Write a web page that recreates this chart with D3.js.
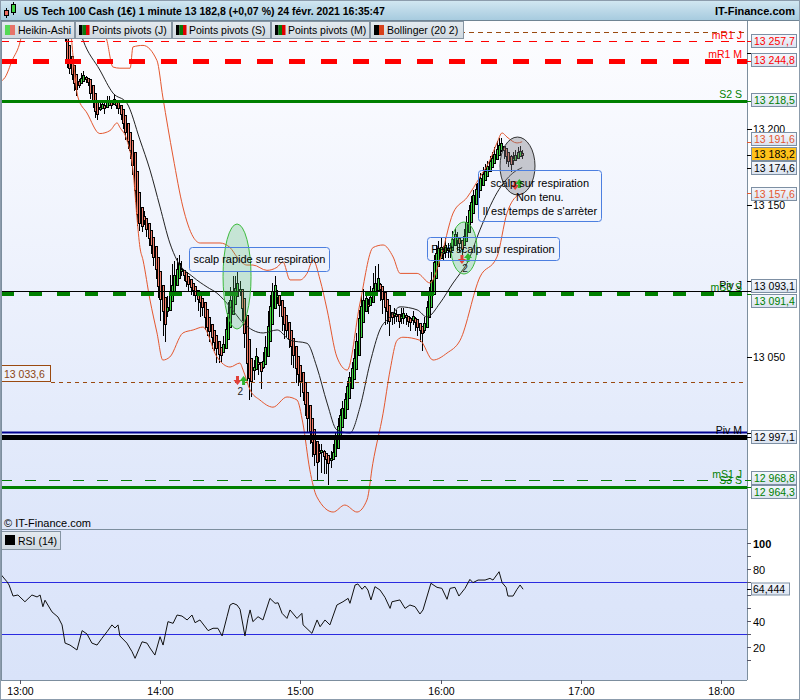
<!DOCTYPE html>
<html><head><meta charset="utf-8">
<script src="https://cdn.jsdelivr.net/npm/d3@7"></script>
<style>
body{margin:0;background:#fff;}
svg{display:block;font-family:"Liberation Sans",Arial,sans-serif;}
</style></head><body>
<svg id="c" width="800" height="700"></svg>
<script>
// ---------------- DATA ----------------
const title = "US Tech 100 Cash (1€) 1 minute 13 182,8 (+0,07 %) 24 févr. 2021 16:35:47";
const site = "IT-Finance.com";
const legendItems = ["Heikin-Ashi","Points pivots (J)","Points pivots (S)","Points pivots (M)","Bollinger (20 2)"];

// Heikin-Ashi candles, one per minute, starting 13:19 (minutes after 13:00)
const candleStart = 19;
const haClose = [
13262,13245,13240,13236,13230,13226,13229,13233,13235,13233,
13231,13224,13218,13212,13210,13214,13216,13214,13217,13218,
13216,13219,13216,13214,13210,13204,13198,13192,13186,13176,
13160,13144,13138,13136,13140,13134,13128,13124,13116,13108,
13097,13088,13080,13072,13082,13092,13097,13103,13107,13111,
13107,13104,13100,13098,13096,13094,13091,13088,13086,13083,
13076,13070,13067,13063,13060,13056,13052,13051,13058,13068,
13078,13087,13091,13095,13098,13094,13082,13066,13046,13036,
13034,13043,13050,13046,13041,13047,13056,13070,13083,13093,
13097,13090,13084,13077,13072,13068,13062,13057,13051,13043,
13039,13034,13027,13019,13010,13001,12994,12986,12981,12987,
12988,12985,12983,12980,12983,12987,12996,13004,13011,13016,
13022,13030,13036,13042,13049,13060,13075,13083,13087,13088,
13084,13089,13095,13098,13101,13095,13088,13083,13080,13074,
13076,13078,13077,13074,13076,13078,13076,13074,13073,13076,
13073,13070,13068,13066,13072,13082,13090,13100,13112,13118,
13121,13122,13119,13123,13121,13120,13127,13130,13128,13125,
13121,13129,13138,13146,13151,13156,13160,13164,13167,13170,
13172,13175,13178,13180,13183,13186,13189,13190,13186,13182,
13179,13177,13180,13182,13184,13185,13183.2];
const wickUp = [
3,2,2,2,2,3,4,4,3,2, 2,2,2,2,3,4,3,3,5,4, 3,4,2,2,2,2,2,2,2,2,
2,2,3,4,6,3,4,3,2,2, 2,2,2,3,8,12,14,10,8,6, 6,3,3,2,3,3,2,2,3,2,
2,2,2,2,2,2,2,3,6,8, 8,9,12,8,8,6,2,2,2,2, 4,5,6,4,5,6,8,10,8,6,
6,4,3,3,2,2,2,2,2,2, 2,3,2,2,2,2,2,2,3,6, 5,4,3,4,5,6,4,6,5,5,
4,4,4,5,6,6,6,8,8,5, 4,8,10,12,10,4,3,2,2,2, 3,4,4,3,6,4,3,3,3,4,
3,2,2,2,4,5,6,6,5,6, 5,6,4,6,4,5,6,5,4,4, 4,5,5,4,5,4,4,5,4,5,
5,4,4,5,5,6,5,4,3,3, 4,6,5,4,4,4,3];
const wickDown = [
4,5,4,4,5,4,2,2,3,3, 3,4,4,5,4,2,3,4,2,3, 3,2,3,4,4,4,5,5,6,6,
8,8,5,4,3,5,5,6,6,7, 8,14,16,12,6,6,4,3,3,3, 4,4,4,5,5,4,5,8,10,6,
8,6,7,8,6,10,6,4,4,3, 5,4,4,3,4,4,8,10,12,14, 10,8,6,8,12,5,8,6,4,3,
4,5,8,10,10,5,6,12,8,10, 8,10,6,8,10,8,10,8,12,6, 14,12,10,14,6,4,3,3,4,4,
4,3,4,3,3,3,4,5,8,6, 6,5,4,4,5,8,10,12,8,10, 5,6,4,5,4,6,5,4,6,5,
6,6,8,12,6,4,4,4,3,3, 4,6,5,8,6,5,6,5,8,6, 6,4,4,3,3,3,4,3,3,3,
3,3,4,4,3,4,4,5,6,5, 4,5,4,3,3,3,3];

// Bollinger (20 2) — sampled readings (minutes after 13:00, price)
const bbUpperT = [34,35.5,37,39.6,42.6,47,48.2,52.5,58.5,61,65.4,69.6,74,77,85.5,89.8,92.8,97,99.6,105.6,109.9,112.5,115.5,119.8,122.8,125.4,128.4,131.4,135.6,140,145.5,151.1,155.4,159.7,162.7,170,175.5,179.8,185.4,191.4,196.9,201.2,204.2,206.4,208.5,212.8,215];
const bbUpper = [13275,13266,13258.5,13240.8,13240,13240,13254,13255,13245,13221,13181.6,13148.7,13129,13125,13125,13122,13115.8,13110.5,13110.5,13107,13109,13112.5,13100.7,13100.7,13105,13113.8,13100.7,13081,13050,13041.4,13085.5,13122,13123.7,13115.8,13105,13105,13098.7,13113.8,13144.7,13155,13168.4,13179.6,13190.8,13197.4,13194.7,13190.8,13191.6];
const bbMidT = [24,26.8,34,39.6,45.6,51.2,55.5,59.8,64,67,74,80,84.2,89.8,95.4,104,110,115.5,122.8,127,131.4,135.6,141.2,145.5,149.8,154,158.4,162.7,170,174.2,179.8,185.4,188.4,191.4,196.9,204.2,211,215];
const bbMid = [13272,13258.5,13238.8,13223.7,13217,13192.8,13173,13148.7,13125,13113.8,13102.6,13096,13092,13083,13072.4,13065.8,13067.8,13061,13059,13043.4,13019.7,13002,13000,13017,13046,13067.8,13076.3,13083,13081,13076.3,13085.5,13098.7,13105,13111.8,13133.6,13158,13171,13174.6];
const bbLowerT = [-8.8,-6.6,-3.6,0,2,21,23,24.6,28.5,34,38.4,41.4,42.6,45.6,48.2,49.9,51.2,52.5,55.5,58.5,61,64,69.6,74,78.2,84.2,89.8,94,95.4,98.4,102.6,108.2,114.2,118.5,121,124,127,134,139,144.2,148.5,151,155.4,158.4,161.4,163.9,171.2,176.8,182.8,188.4,196.9,204.2,208.5,211,215];
const bbLower = [13231,13234,13245,13258.5,13275,13268,13240,13221,13210.5,13197,13199,13204,13201,13192.8,13173,13142,13122,13113.8,13087.5,13065.8,13048,13050,13065.8,13067.8,13069.7,13050,13043.4,13046,13041.4,13028.3,13021.7,13017,13023.7,13021.7,13006.6,12975.7,12958,12948,12952.6,12948,12956,12980,13013,13041.4,13061,13063,13061,13048,13052.6,13061,13102.6,13115.8,13144.7,13153,13157.6];

// Pivot levels
const levelNames = ["mR1 J","mR1 M","S2 S","Piv J","mS3 S","Piv M","mS1 J","S3 S"];
const levelValues = [13257.7,13244.8,13218.5,13093.1,13091.4,12997.1,12968.8,12964.3];
const userLevels = [13263.8, 13033.6];
const blueLevel = 13000.4;

// Right-hand value boxes
const boxValues = [13257.7,13244.8,13218.5,13191.6,13183.2,13174.6,13157.6,13093.1,13091.4,12997.1,12968.8,12964.3];
const boxLabels = ["13 257,7","13 244,8","13 218,5","13 191,6","13 183,2","13 174,6","13 157,6","13 093,1","13 091,4","12 997,1","12 968,8","12 964,3"];
const priceTicks = [13000,13050,13100,13150,13200,13250];
const priceTickLabels = ["13 000","13 050","13 100","13 150","13 200","13 250"];

// RSI (14)
const rsiT = [-8.8,-5.8,-4.9,-3.2,-1.1,1.9,4.9,7.1,8.4,9.6,10.5,13.5,16.1,17.8,19.1,21.2,24.2,26.4,28.5,30.6,32.8,34.9,37.1,39.2,40.5,41.8,42.6,45.6,47.8,49.1,52.1,54.2,55.5,57.6,59.8,61.1,63.2,65.4,67.1,69.2,71.4,73.5,74.8,76.9,80.4,82.5,84.6,86.4,88.5,89.8,91.1,92.8,94.1,96.2,97.5,98.4,99.6,101.8,103.9,106.9,109.1,110.4,112.1,114.2,115.5,118.5,120.6,121.1,124.9,127.1,128.4,130.5,132.6,135.6,138.2,140.4,141.2,143.4,144.6,146.4,147.6,148.9,150.2,151.9,154.1,156.2,158.4,159.2,162.6,164.8,166.9,169.1,171.2,172.5,175.9,178.5,180.6,182.8,184.1,186.2,187.9,190.5,192.6,193.9,196.1,199.1,201.2,202.5,205.1,206.4,208.1,208.9,211.1,212.8,214.1,215.4];
const rsiV = [76.7,70.2,67.7,59.2,60,54.8,60,58.5,60,51,56,47,43,37,23,21.5,17.7,32.6,30,23,21.5,26.7,31.8,37,34.6,37,28.5,23,16.4,11.3,24,23,19.2,13.8,27.9,21.5,39.5,38.2,44.6,43.8,40.8,44.6,38.7,40.8,32.6,34.4,34.4,28.5,43.3,52.3,53.6,52.3,49,28.5,42,48.5,39.5,43.3,40.8,57.4,53.6,54,45.9,42,48.5,42,45.9,37,30.5,40.8,35.6,40.8,37,52.3,54.8,57.4,53.6,67.7,68.5,64.4,66.9,63.8,56.2,66.4,63.8,58.2,49.7,54.8,56.2,49.7,52.3,51,45.4,48.5,69,65.9,65.1,56.7,65.1,65.9,59.2,65.1,72,69.5,71.5,71.5,72.8,71.5,77.9,69.5,65.9,59.2,59.2,64.4,67.7,64.444];
const rsiLevels = [70, 30];
const rsiTicks = [20,40,60,80,100];
const rsiLast = "64,444";

// Annotations (time span in minutes after 13:00, price span)
const notes = [
  {lines:["scalp rapide sur respiration"], t:[72.4,132.4], p:[13122.4,13106.6]},
  {lines:["Petit scalp sur respiration"], t:[174.3,231], p:[13128.9,13113.8]},
  {lines:["scalp sur respiration","Non tenu.","Il est temps de s'arrèter"], t:[196.1,249], p:[13173,13139.5]}
];
const ellipses = [
  {t:[86.8,98.8], p:[13068.4,13137.5], kind:"green"},
  {t:[184.5,195.6], p:[13104.6,13138.8], kind:"green"},
  {t:[205.5,220.5], p:[13156.6,13194.7], kind:"grey"}
];

// ---------------- CHART ----------------
const svg = d3.select("#c");
const defs = svg.append("defs");
function grad(id, stops){
  const g = defs.append("linearGradient").attr("id",id).attr("x1",0).attr("y1",0).attr("x2",0).attr("y2",1);
  stops.forEach(([o,c])=>g.append("stop").attr("offset",o).attr("stop-color",c));
}
grad("hdr",[[0,"#d3e8f2"],[1,"#a7cbdf"]]);
grad("mainbg",[[0,"#fdfdff"],[1,"#dde6fa"]]);
grad("rsibg",[[0,"#dfe7fb"],[1,"#d9e3f9"]]);
grad("btn",[[0,"#e4eaef"],[1,"#cfd8e0"]]);
grad("box",[[0,"#f5f8fd"],[1,"#d9e2ef"]]);

const L=1, R=747, MT=21, MB=529, RT=530, RB=680;
defs.append("clipPath").attr("id","clipMain").append("rect").attr("x",L).attr("y",MT).attr("width",R-L).attr("height",MB-MT);
defs.append("clipPath").attr("id","clipRsi").append("rect").attr("x",L).attr("y",RT).attr("width",R-L).attr("height",RB-RT);

const base = new Date(2021,1,24,13,0,0);
const toDate = m => new Date(base.getTime()+m*60000);
const x = d3.scaleTime().domain([toDate(-8.357), toDate(311.357)]).range([L,R]);
const y = d3.scaleLinear().domain([12936.84,13271.05]).range([MB,MT]);
const yr = d3.scaleLinear().domain([-5.385,110]).range([RB,RT]);
const xm = m => x(toDate(m));

svg.append("rect").attr("width",800).attr("height",700).attr("fill","#fff");
svg.append("rect").attr("x",L).attr("y",MT).attr("width",R-L).attr("height",MB-MT).attr("fill","url(#mainbg)");
svg.append("rect").attr("x",L).attr("y",RT).attr("width",R-L).attr("height",RB-RT).attr("fill","url(#rsibg)");

// header
svg.append("rect").attr("x",0).attr("y",0).attr("width",800).attr("height",20).attr("fill","url(#hdr)");
svg.append("line").attr("x1",0).attr("x2",800).attr("y1",20.5).attr("y2",20.5).attr("stroke","#6f8494");
const ic = svg.append("g");
ic.append("line").attr("x1",6.5).attr("x2",6.5).attr("y1",8).attr("y2",18).attr("stroke","#000");
ic.append("rect").attr("x",4.5).attr("y",10.5).attr("width",4).attr("height",5).attr("fill","#ec6a5e").attr("stroke","#000");
ic.append("line").attr("x1",13.5).attr("x2",13.5).attr("y1",2).attr("y2",15).attr("stroke","#000");
ic.append("rect").attr("x",11.5).attr("y",4.5).attr("width",4).attr("height",8).attr("fill","#3fd23f").attr("stroke","#000");
svg.append("text").attr("x",24).attr("y",15).attr("font-size",10.5).attr("font-weight","bold").text(title);
svg.append("text").attr("x",795).attr("y",15).attr("text-anchor","end").attr("font-size",11).attr("font-weight","bold").text(site);

// ---- main panel content (clipped)
const gm = svg.append("g").attr("clip-path","url(#clipMain)");

gm.append("line").attr("x1",L).attr("x2",R).attr("y1",Math.round(y(userLevels[0]))+0.5).attr("y2",Math.round(y(userLevels[0]))+0.5)
  .attr("stroke","#9a4a10").attr("stroke-dasharray","5,4");

// candles (Heikin-Ashi open from previous candle)
const candles = [];
let po = 13266, pc = 13266;
haClose.forEach((c,i)=>{
  const o = (po+pc)/2;
  const hi = Math.max(c+wickUp[i], o, c), lo = Math.min(c-wickDown[i], o, c);
  candles.push({m:candleStart+i,o,c,hi,lo});
  po=o; pc=c;
});
const gc = gm.append("g").attr("shape-rendering","crispEdges");
candles.forEach(d=>{
  const cx = Math.round(xm(d.m));
  gc.append("line").attr("x1",cx+0.5).attr("x2",cx+0.5).attr("y1",y(d.hi)).attr("y2",y(d.lo)).attr("stroke","#000");
  const yt = Math.round(y(Math.max(d.o,d.c))), yb = Math.round(y(Math.min(d.o,d.c)));
  const h = Math.max(1, yb-yt);
  gc.append("rect").attr("x",cx-1).attr("y",yt-1).attr("width",3).attr("height",h+2).attr("fill","#000");
  gc.append("rect").attr("x",cx).attr("y",yt).attr("width",1).attr("height",h).attr("fill", d.c>=d.o ? "#42d642" : "#f0806c");
});

// Bollinger
const lineGen = d3.line().x(d=>xm(d[0])).y(d=>y(d[1])).curve(d3.curveMonotoneX);
gm.append("path").attr("d",lineGen(bbUpperT.map((t,i)=>[t,bbUpper[i]]))).attr("fill","none").attr("stroke","#e4572e").attr("stroke-width",1);
gm.append("path").attr("d",lineGen(bbLowerT.map((t,i)=>[t,bbLower[i]]))).attr("fill","none").attr("stroke","#e4572e").attr("stroke-width",1);
gm.append("path").attr("d",lineGen(bbMidT.map((t,i)=>[t,bbMid[i]]))).attr("fill","none").attr("stroke","#222").attr("stroke-width",1);

gm.append("line").attr("x1",51).attr("x2",R).attr("y1",Math.round(y(userLevels[1]))+0.5).attr("y2",Math.round(y(userLevels[1]))+0.5)
  .attr("stroke","#9a4a10").attr("stroke-dasharray","4,4");
gm.append("line").attr("x1",L).attr("x2",R).attr("y1",y(blueLevel)).attr("y2",y(blueLevel)).attr("stroke","#000090").attr("stroke-width",2);

// pivot levels
const lvStyle = [
  {c:"#ff0000",w:1,d:"8,8"},{c:"#ff0000",w:5,d:"16,16"},{c:"#008000",w:3,d:null},
  {c:"#000",w:1,d:null},{c:"#008000",w:4,d:"13,15"},{c:"#000",w:5,d:null},
  {c:"#008000",w:1,d:"11,13"},{c:"#008000",w:3,d:null}
];
levelValues.forEach((v,i)=>{
  const s = lvStyle[i];
  const yy = s.w%2 ? Math.round(y(v))+0.5 : Math.round(y(v));
  const ln = gm.append("line").attr("x1",L).attr("x2",R).attr("y1",yy).attr("y2",yy).attr("stroke",s.c).attr("stroke-width",s.w);
  if(s.d) ln.attr("stroke-dasharray",s.d);
  gm.append("text").attr("x",742).attr("y",Math.round(y(v)) - (s.w>2?3:2)).attr("text-anchor","end").attr("font-size",10.5)
    .attr("fill", s.c).text(levelNames[i]);
});

// left value box
{
  const yy = Math.round(y(userLevels[1]));
  svg.append("rect").attr("x",1.5).attr("y",yy-16.5).attr("width",49).attr("height",16).attr("fill","#eef2fb").attr("stroke","#9a4a10");
  svg.append("text").attr("x",4).attr("y",yy-4).attr("font-size",10.5).attr("fill","#8b4513").text("13 033,6");
}

// ellipses
ellipses.forEach(e=>{
  const cx=(xm(e.t[0])+xm(e.t[1]))/2, cy=(y(e.p[0])+y(e.p[1]))/2;
  const rx=Math.abs(xm(e.t[1])-xm(e.t[0]))/2, ry=Math.abs(y(e.p[0])-y(e.p[1]))/2;
  gm.append("ellipse").attr("cx",cx).attr("cy",cy).attr("rx",rx).attr("ry",ry)
    .attr("fill", e.kind==="green"?"rgba(90,190,110,0.28)":"rgba(120,120,130,0.38)")
    .attr("stroke", e.kind==="green"?"#3dbb3d":"#333").attr("stroke-width",1);
});

// trade arrows
function arrowDown(cx,ty){ gm.append("path").attr("d",`M${cx-1.5},${ty} h3 v4 h2.5 l-4,5 l-4,-5 h2.5 z`).attr("fill","#e0413a"); }
function arrowUp(cx,by){ gm.append("path").attr("d",`M${cx-1.5},${by} h3 v-4 h2.5 l-4,-5 l-4,5 h2.5 z`).attr("fill","#2fb52f"); }
arrowDown(xm(93.0),376); arrowUp(xm(95.6),385);
gm.append("text").attr("x",xm(94.2)).attr("y",395).attr("text-anchor","middle").attr("font-size",10).attr("fill","#222").text("2");
arrowDown(xm(189.2),255); arrowUp(xm(191.8),262);
gm.append("text").attr("x",xm(190.5)).attr("y",272).attr("text-anchor","middle").attr("font-size",10).attr("fill","#222").text("2");
arrowDown(xm(212),181); arrowUp(xm(213.8),188);

// annotation boxes
notes.forEach(n=>{
  const x0=xm(n.t[0]), x1=xm(n.t[1]), y0=y(n.p[0]), y1=y(n.p[1]);
  gm.append("rect").attr("x",Math.round(x0)+0.5).attr("y",Math.round(y0)+0.5).attr("width",Math.round(x1-x0)).attr("height",Math.round(y1-y0))
    .attr("rx",3).attr("fill","none").attr("stroke","#4c7fe0");
  const single = n.lines.length===1;
  n.lines.forEach((s,k)=>{
    gm.append("text").attr("x", single? x0+4 : (x0+x1)/2).attr("text-anchor", single?"start":"middle")
      .attr("y", single ? (y0+y1)/2+4 : y0+17+k*14).attr("font-size",11).attr("fill","#000").text(s);
  });
});

svg.append("text").attr("x",4).attr("y",527).attr("font-size",11).attr("fill","#000").text("© IT-Finance.com");

// legend buttons
const btnX = [1,75,172,271,370], btnW=[73,96,98,98,93];
const icons = [["#55d955","#e7736a"],["#000","#0a7a0a","#e00000"],["#000","#0a7a0a","#e00000"],["#000","#0a7a0a","#e00000"],["#000","#d8401a"]];
legendItems.forEach((s,i)=>{
  svg.append("rect").attr("x",btnX[i]+0.5).attr("y",21.5).attr("width",btnW[i]).attr("height",17).attr("fill","url(#btn)").attr("stroke","#8594a2");
  const icn = icons[i], w = icn.length===2?5:3.5;
  icn.forEach((c,k)=>svg.append("rect").attr("x",btnX[i]+4+k*w).attr("y",25).attr("width",w).attr("height",10).attr("fill",c));
  svg.append("text").attr("x",btnX[i]+17).attr("y",34).attr("font-size",10.5).text(s);
});

// ---- RSI panel
const gr = svg.append("g").attr("clip-path","url(#clipRsi)");
rsiLevels.forEach(v=>gr.append("line").attr("x1",L).attr("x2",R).attr("y1",Math.round(yr(v))+0.5).attr("y2",Math.round(yr(v))+0.5).attr("stroke","#2a2ae0"));
gr.append("path").attr("d", d3.line().x(d=>xm(d[0])).y(d=>yr(d[1]))(rsiT.map((t,i)=>[t,rsiV[i]])))
  .attr("fill","none").attr("stroke","#111").attr("stroke-width",1);
svg.append("rect").attr("x",1.5).attr("y",531.5).attr("width",59).attr("height",18).attr("fill","url(#btn)").attr("stroke","#8594a2");
svg.append("rect").attr("x",5).attr("y",535).attr("width",10).attr("height",10).attr("fill","#000");
svg.append("text").attr("x",18).attr("y",545).attr("font-size",10.5).text("RSI (14)");

// ---- frames & axes
const fr = svg.append("g").attr("stroke","#7c8e9e").attr("shape-rendering","crispEdges");
fr.append("line").attr("x1",L+0.5).attr("x2",L+0.5).attr("y1",MT).attr("y2",RB);
fr.append("line").attr("x1",R+0.5).attr("x2",R+0.5).attr("y1",MT).attr("y2",RB);
fr.append("line").attr("x1",L).attr("x2",R).attr("y1",MB+0.5).attr("y2",MB+0.5);
fr.append("line").attr("x1",L).attr("x2",R).attr("y1",RB+0.5).attr("y2",RB+0.5);
svg.append("rect").attr("x",0.5).attr("y",0.5).attr("width",799).attr("height",699).attr("fill","none").attr("stroke","#8c9cac");

// price axis ticks (labels hidden by value boxes are not drawn)
const boxY = [40.5,59.5,99.5,138.5,153.5,167.5,193.5,285.5,300.5,436.5,477,491.5];
priceTicks.forEach((v,i)=>{
  const yy = Math.round(y(v))+0.5;
  svg.append("line").attr("x1",R).attr("x2",R+5).attr("y1",yy).attr("y2",yy).attr("stroke","#000");
  const hidden = boxY.some(b=>Math.abs(b-yy)<9);
  if(!hidden) svg.append("text").attr("x",R+6).attr("y",yy+3).attr("font-size",10.5).text(priceTickLabels[i]);
});
// value boxes
const boxColors = ["#ff0000","#ff0000","#008000","#e4572e","#000","#000","#e4572e","#000","#008000","#000","#008000","#008000"];
boxValues.forEach((v,i)=>{
  const yy = Math.round(y(v))+0.5;
  svg.append("line").attr("x1",R).attr("x2",R+5).attr("y1",yy).attr("y2",yy).attr("stroke",boxColors[i]);
  const by = Math.round(boxY[i]-6.5)+0.5;
  svg.append("rect").attr("x",751.5).attr("y",by).attr("width",45).attr("height",13)
    .attr("fill", i===4 ? "#ffc21a" : "url(#box)").attr("stroke","#7d8fa3");
  svg.append("text").attr("x",754).attr("y",by+10.5).attr("font-size",10.5).attr("fill",boxColors[i]).text(boxLabels[i]);
});

// RSI axis
d3.range(10,101,10).forEach(v=>{
  const yy = Math.round(yr(v))+0.5;
  svg.append("line").attr("x1",R).attr("x2",R+4).attr("y1",yy).attr("y2",yy).attr("stroke","#556");
});
const rsiBoxY = Math.round(yr(rsiV[rsiV.length-1]))+0.5;
rsiTicks.forEach(v=>{
  const ty = Math.round(yr(v))+4.5;
  if(Math.abs(ty-4-rsiBoxY)<9) return;
  svg.append("text").attr("x",R+6).attr("y",ty).attr("font-size", 11)
    .attr("font-weight", v===100?"bold":"normal").text(v);
});
svg.append("line").attr("x1",R).attr("x2",R+5).attr("y1",rsiBoxY).attr("y2",rsiBoxY).attr("stroke","#000");
svg.append("rect").attr("x",751.5).attr("y",rsiBoxY-6.5).attr("width",38).attr("height",12).attr("fill","url(#box)").attr("stroke","#7d8fa3");
svg.append("text").attr("x",753).attr("y",rsiBoxY+3.5).attr("font-size",10.5).text(rsiLast);

// time axis
const xt = d3.timeHour.range(toDate(0), toDate(301));
xt.forEach(d=>{
  const xx = Math.round(x(d))+0.5;
  svg.append("line").attr("x1",xx).attr("x2",xx).attr("y1",RB).attr("y2",RB+4).attr("stroke","#556");
  svg.append("text").attr("x",xx).attr("y",695).attr("text-anchor","middle").attr("font-size",10.5).text(d3.timeFormat("%H:%M")(d));
});
</script></body></html>
